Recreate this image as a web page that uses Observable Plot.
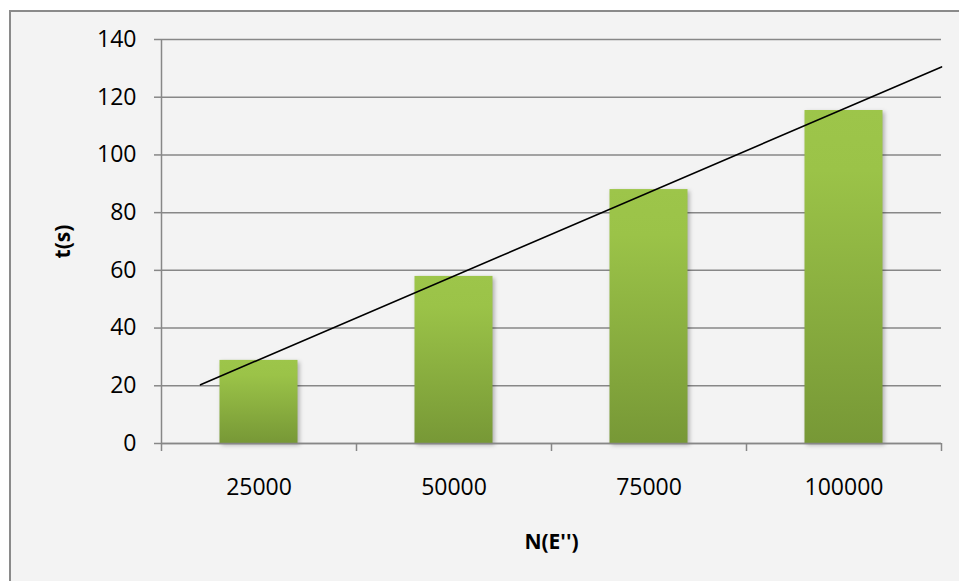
<!DOCTYPE html>
<html>
<head>
<meta charset="utf-8">
<script src="https://cdn.jsdelivr.net/npm/d3@7"></script>
<script src="https://cdn.jsdelivr.net/npm/@observablehq/plot@0.6"></script>
<style>
  html, body { margin: 0; padding: 0; background: #ffffff; overflow: hidden; width: 959px; height: 581px; }
  #wrap { position: relative; width: 959px; height: 581px; }
  #panel { position: absolute; left: 9px; top: 10px; width: 1100px; height: 800px;
           border: 2px solid #8a8a8a; background: #f3f3f3; box-sizing: border-box; }
  #chart { position: absolute; left: 0; top: 0; }
</style>
</head>
<body>
<div id="wrap"><div id="panel"></div><div id="chart"></div></div>
<script>
// Data
const categories = ["25000", "50000", "75000", "100000"];
const times = [28.8, 57.9, 88.0, 115.4];
const yTicks = [0, 20, 40, 60, 80, 100, 120, 140];
const xLabel = "N(E'')";
const yLabel = "t(s)";
// Trendline forecast (in category units)
const trendBackward = 0.3;
const trendForward = 0.5;

const data = categories.map((c, i) => ({pos: i + 1, label: c, t: times[i]}));

// Linear regression of t against category position (1..n)
const n = data.length;
const mx = d3.mean(data, d => d.pos);
const my = d3.mean(data, d => d.t);
const slope = d3.sum(data, d => (d.pos - mx) * (d.t - my)) / d3.sum(data, d => (d.pos - mx) ** 2);
const intercept = my - slope * mx;
const trend = [1 - trendBackward, n + trendForward].map(p => ({pos: p, t: intercept + slope * p}));

const boundaries = d3.range(0.5, n + 1, 1);
const gray = "#878787";
const halfBar = 0.2;

const defs = () => {
  const g = d3.create("svg:defs");
  const lg = g.append("linearGradient").attr("id", "barGrad").attr("x1", 0).attr("y1", 0).attr("x2", 0).attr("y2", 1);
  lg.append("stop").attr("offset", "0%").attr("stop-color", "#9dc54a");
  lg.append("stop").attr("offset", "18%").attr("stop-color", "#9bc348");
  lg.append("stop").attr("offset", "100%").attr("stop-color", "#779836");
  return g.node();
};

const chart = Plot.plot({
  width: 959,
  height: 581,
  marginLeft: 161,
  marginRight: 18,
  marginTop: 39,
  marginBottom: 138,
  style: {background: "transparent", fontFamily: "'Open Sans', sans-serif", fontSize: "23px", color: "#000"},
  x: {domain: [0.5, n + 0.5], axis: null},
  y: {domain: [0, 140], axis: null},
  marks: [
    defs,
    Plot.gridY(yTicks, {stroke: gray, strokeOpacity: 1, strokeWidth: 1.5}),
    Plot.axisY(yTicks, {tickSize: 7, tickPadding: 18, stroke: gray, strokeWidth: 1.5, label: null, fill: "#000", fontSize: 23}),
    Plot.ruleX([0.5], {y1: 0, y2: 140, stroke: gray, strokeWidth: 1.5}),
    Plot.axisX(boundaries, {tickSize: 8, tickFormat: () => "", stroke: gray, strokeWidth: 1.5, label: null}),
    Plot.rectY(data, {x1: d => d.pos - halfBar, x2: d => d.pos + halfBar, y1: 0, y2: "t", fill: "url(#barGrad)", imageFilter: "drop-shadow(2px 2px 2px rgba(0,0,0,0.28))"}),
    Plot.ruleY([0], {stroke: gray, strokeWidth: 1.5}),
    Plot.line(trend, {x: "pos", y: "t", stroke: "#000", strokeWidth: 1.6}),
    Plot.text(data, {x: "pos", text: "label", frameAnchor: "bottom", dy: 44, lineAnchor: "middle", fill: "#000", fontSize: 23}),
    Plot.text([xLabel], {frameAnchor: "bottom", dy: 99, lineAnchor: "middle", textAnchor: "middle", fontWeight: "bold", fontSize: 21, fill: "#000"}),
    Plot.text([yLabel], {frameAnchor: "left", dx: -98, rotate: -90, lineAnchor: "middle", textAnchor: "middle", fontWeight: "bold", fontSize: 21, fill: "#000"})
  ]
});
document.getElementById("chart").appendChild(chart);
</script>
</body>
</html>
